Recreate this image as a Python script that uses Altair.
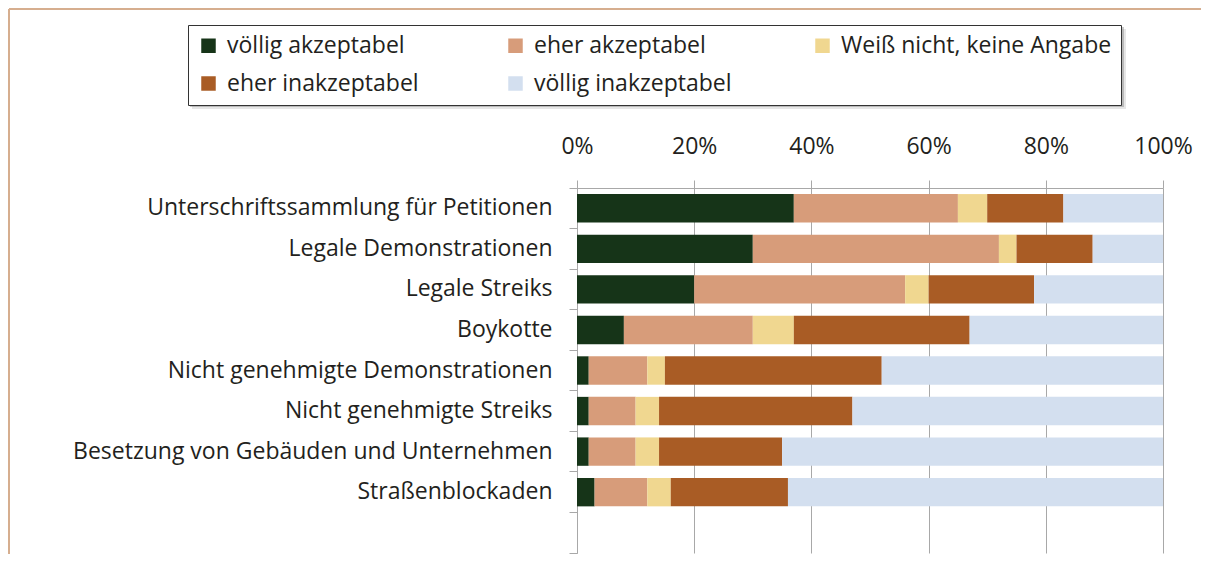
import altair as alt
import pandas as pd

categories = [
    "Unterschriftssammlung für Petitionen",
    "Legale Demonstrationen",
    "Legale Streiks",
    "Boykotte",
    "Nicht genehmigte Demonstrationen",
    "Nicht genehmigte Streiks",
    "Besetzung von Gebäuden und Unternehmen",
    "Straßenblockaden",
]
responses = [
    "völlig akzeptabel",
    "eher akzeptabel",
    "Weiß nicht, keine Angabe",
    "eher inakzeptabel",
    "völlig inakzeptabel",
]
colors = ["#163418", "#d79c7a", "#f0d790", "#a95c25", "#d3dfef"]

voellig_akzeptabel = [37, 30, 20, 8, 2, 2, 2, 3]
eher_akzeptabel = [28, 42, 36, 22, 10, 8, 8, 9]
weiss_nicht = [5, 3, 4, 7, 3, 4, 4, 4]
eher_inakzeptabel = [13, 13, 18, 30, 37, 33, 21, 20]
voellig_inakzeptabel = [17, 12, 22, 33, 48, 53, 65, 64]

tick_values = [0, 20, 40, 60, 80, 100]

series = [voellig_akzeptabel, eher_akzeptabel, weiss_nicht,
          eher_inakzeptabel, voellig_inakzeptabel]
rows = []
for ci, cat in enumerate(categories):
    for ri, resp in enumerate(responses):
        rows.append({"cat": cat, "resp": resp, "order": ri, "value": series[ri][ci]})
df = pd.DataFrame(rows)

y_domain = categories + [" "]
FONT = "Open Sans"
FS = 23
TXT = "#231f20"
GRID = "#a8a8a8"

bars = alt.Chart(df).mark_bar(height=alt.RelativeBandSize(0.7)).encode(
    y=alt.Y("cat:N", sort=y_domain,
            scale=alt.Scale(domain=y_domain, paddingInner=0, paddingOuter=0),
            axis=alt.Axis(title=None, bandPosition=1, tickExtra=True, grid=False,
                          domainColor=GRID, tickColor=GRID, tickSize=8,
                          labelPadding=17, labelFontSize=FS, labelFont=FONT,
                          labelColor=TXT, labelLimit=600)),
    x=alt.X("value:Q", stack="zero",
            scale=alt.Scale(domain=[0, 100], nice=False),
            axis=alt.Axis(title=None, orient="top", values=tick_values,
                          labelExpr="datum.value + '%'", grid=True,
                          labelFlush=False,
                          gridColor=GRID, domainColor=GRID, tickColor=GRID,
                          tickSize=8, labelPadding=22, labelFontSize=FS,
                          labelFont=FONT, labelColor=TXT)),
    color=alt.Color("resp:N", sort=responses,
                    scale=alt.Scale(domain=responses, range=colors),
                    legend=alt.Legend(title=None, orient="none", legendX=-389,
                                      legendY=-163, columns=3, gridAlign="all",
                                      direction="horizontal",
                                      columnPadding=6, rowPadding=14,
                                      symbolType="square", symbolSize=210,
                                      symbolStrokeWidth=0, symbolOpacity=1,
                                      labelFontSize=FS, labelFont=FONT,
                                      labelColor=TXT, labelOffset=7,
                                      labelLimit=400,
                                      fillColor="white", strokeColor="#333333",
                                      padding=9)),
    order=alt.Order("order:Q"),
)

deco = alt.Data(values=[{"a": 1}])
frame_left = alt.Chart(deco).mark_rule(color="#d6ae8f", strokeWidth=2).encode(
    x=alt.value(-568), y=alt.value(-179), y2=alt.value(380))
frame_top = alt.Chart(deco).mark_rule(color="#d6ae8f", strokeWidth=2).encode(
    x=alt.value(-568), x2=alt.value(640), y=alt.value(-179))
shadow_outer = alt.Chart(deco).mark_rect(color="#777777", opacity=0.18).encode(
    x=alt.value(-385), x2=alt.value(549), y=alt.value(-159), y2=alt.value(-79))
shadow_inner = alt.Chart(deco).mark_rect(color="#666666", opacity=0.35).encode(
    x=alt.value(-387), x2=alt.value(547), y=alt.value(-161), y2=alt.value(-81))

chart = alt.layer(frame_left, frame_top, shadow_outer, shadow_inner, bars).properties(
    width=586, height=365,
    autosize=alt.AutoSizeParams(type="none"),
    padding={"left": 569, "top": 180, "right": 38, "bottom": 1},
).configure_view(stroke=None)

chart.save("out.html", embed_options={"renderer": "svg", "actions": False})
